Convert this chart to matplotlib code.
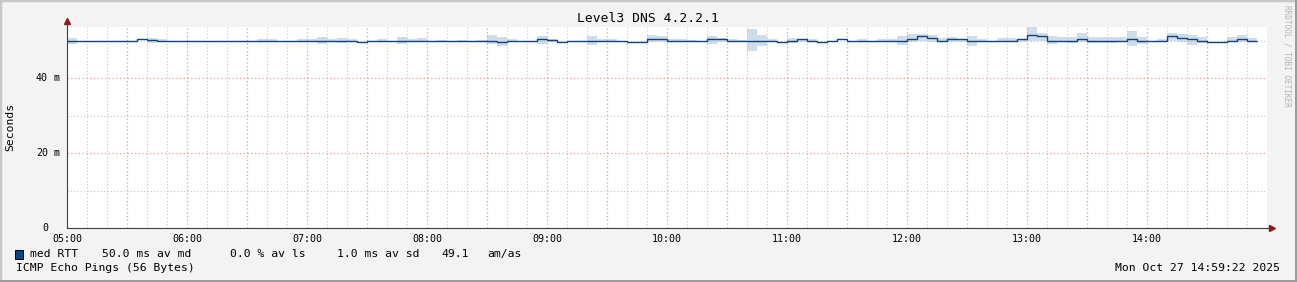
import numpy as np
import matplotlib
matplotlib.use("Agg")
import matplotlib.pyplot as plt
from matplotlib.patches import Rectangle

# median RTT (ms) per 5 minute step starting 05:00
med = [50.00, 50.00, 49.82, 50.00, 49.82, 50.00, 49.82, 50.27, 50.09, 50.00,
       50.00, 49.82, 49.82, 50.00, 50.00, 49.82, 50.00, 49.82, 49.82, 50.00,
       50.00, 50.00, 50.00, 50.00, 50.00, 50.00, 50.00, 50.00, 50.00, 49.73,
       50.00, 50.00, 50.00, 50.00, 50.00, 50.00, 50.00, 50.00, 50.00, 50.00,
       49.91, 50.00, 50.00, 49.73, 50.00, 50.00, 50.00, 50.27, 50.09, 49.73,
       50.00, 50.00, 50.00, 50.00, 50.00, 50.00, 49.73, 49.73, 50.27, 50.27,
       50.00, 50.00, 50.00, 50.00, 50.27, 50.27, 50.00, 50.00, 50.00, 50.00,
       50.00, 49.73, 50.00, 50.27, 50.00, 49.73, 50.00, 50.27, 50.00, 50.00,
       50.00, 50.00, 50.00, 50.00, 50.53, 51.07, 50.80, 50.00, 50.27, 50.27,
       50.00, 50.00, 50.00, 50.00, 50.00, 50.27, 51.60, 51.07, 50.00, 50.00,
       50.00, 50.53, 50.00, 50.00, 50.00, 50.00, 50.53, 50.00, 50.00, 50.00,
       51.33, 50.80, 50.27, 50.00, 49.73, 49.73, 50.00, 50.27, 50.00]

# smoke band top / bottom (ms)
band_hi = [50.71, 50.00, 49.82, 50.00, 49.82, 50.00, 49.82, 50.27, 50.71, 50.36,
           50.00, 49.82, 49.82, 50.00, 50.00, 49.82, 50.00, 49.82, 49.82, 50.36,
           50.36, 50.00, 50.00, 50.36, 50.36, 50.89, 50.36, 50.62, 50.36, 49.73,
           50.00, 50.36, 50.00, 50.89, 50.36, 50.62, 50.00, 50.18, 50.00, 50.18,
           49.91, 50.18, 51.42, 50.89, 50.36, 50.00, 50.00, 51.16, 50.36, 49.73,
           50.00, 50.00, 51.16, 50.36, 50.36, 50.00, 49.73, 49.73, 51.42, 51.16,
           50.36, 50.36, 50.18, 50.00, 51.16, 50.71, 50.36, 50.18, 53.02, 51.42,
           50.36, 49.73, 50.62, 50.36, 50.36, 49.73, 50.00, 50.27, 50.00, 50.36,
           50.00, 50.36, 50.36, 51.16, 51.78, 51.78, 51.42, 50.71, 50.89, 50.36,
           51.16, 50.36, 50.00, 50.62, 50.62, 50.36, 53.56, 52.13, 51.16, 50.89,
           50.89, 52.13, 50.89, 50.89, 50.89, 50.89, 52.49, 50.89, 50.00, 50.36,
           52.13, 51.78, 51.42, 50.89, 49.73, 49.73, 50.89, 51.42, 50.62]

band_lo = [49.11, 50.00, 49.82, 50.00, 49.82, 50.00, 49.82, 50.27, 49.38, 49.73,
           50.00, 49.82, 49.82, 50.00, 50.00, 49.82, 50.00, 49.82, 49.82, 49.47,
           49.47, 50.00, 50.00, 49.47, 49.73, 49.11, 49.73, 49.38, 49.64, 49.73,
           50.00, 49.73, 50.00, 49.11, 49.47, 49.47, 50.00, 49.73, 50.00, 49.73,
           49.91, 49.73, 49.11, 48.58, 49.47, 50.00, 50.00, 49.11, 49.47, 49.73,
           50.00, 50.00, 48.84, 49.47, 49.73, 50.00, 49.73, 49.73, 49.47, 49.47,
           49.73, 49.73, 49.73, 50.00, 49.11, 49.47, 49.73, 49.64, 47.07, 48.58,
           49.73, 49.73, 49.38, 49.73, 49.73, 49.73, 50.00, 50.27, 50.00, 49.73,
           50.00, 49.73, 49.73, 48.84, 49.73, 50.00, 49.73, 49.47, 49.73, 49.73,
           48.58, 49.47, 50.00, 49.64, 49.73, 49.73, 50.00, 50.00, 49.11, 49.47,
           49.29, 49.73, 49.29, 49.29, 49.29, 49.47, 48.58, 49.11, 50.00, 49.73,
           50.00, 49.47, 48.84, 49.29, 49.73, 49.73, 49.47, 49.47, 49.47]

x_labels = ['05:00', '06:00', '07:00', '08:00', '09:00',
            '10:00', '11:00', '12:00', '13:00', '14:00']
y_ticks = [0, 20, 40]
y_labels = ['0', '20', '40']

W, H = 1297, 282
BG = '#f3f3f3'
LINE = '#0a4486'
SMOKE = '#d0dce7'
mono = 'DejaVu Sans Mono'

fig = plt.figure(figsize=(W / 100, H / 100), dpi=100, facecolor=BG)
ax = fig.add_axes([67 / W, (H - 228) / H, 1200 / W, 201 / H])
ax.set_facecolor('white')

# time axis in hours, one step = 5 min
edges = 5 + np.arange(len(med) + 1) / 12
ax.stairs(band_hi, edges, baseline=band_lo, fill=True, color=SMOKE,
          lw=0, zorder=1)
ax.stairs(med, edges, baseline=None, color=LINE, lw=1.0, zorder=3)

ax.set_xlim(5, 15)
ax.set_ylim(0, 53.6)

# grid: red every 30 min / 20 ms, grey every 10 min / 10 ms
major_x = np.arange(5, 15, 0.5)
minor_x = [5 + k / 6 for k in range(60) if k % 3 != 0]
ax.set_xticks(major_x)
ax.set_xticks(minor_x, minor=True)
ax.set_yticks([0, 20, 40])
ax.set_yticks([10, 30, 50], minor=True)
ax.grid(which='minor', color='#c4c4c4', ls=(0, (1, 2)), lw=0.8, zorder=4)
ax.grid(which='major', color='#e89a9a', ls=(0, (1, 2)), lw=0.9, zorder=4)
ax.set_axisbelow(False)

ax.set_xticklabels([x_labels[i // 2] if i % 2 == 0 else ''
                    for i in range(len(major_x))],
                   family=mono, fontsize=7.2)
ax.set_yticklabels([])
ax.tick_params(which='both', length=0, pad=4)

for v, lab in zip(y_ticks, y_labels):
    ax.annotate(lab, xy=(0, v), xycoords=ax.get_yaxis_transform(),
                xytext=(-19, 0), textcoords='offset pixels', ha='right',
                va='center', family=mono, fontsize=7.2)
    if v != 0:
        ax.annotate('m', xy=(0, v), xycoords=ax.get_yaxis_transform(),
                    xytext=(-13, 0), textcoords='offset pixels', ha='left',
                    va='center', family=mono, fontsize=7.2)

for s in ['top', 'right']:
    ax.spines[s].set_visible(False)
for s in ['left', 'bottom']:
    ax.spines[s].set_color('#404040')
    ax.spines[s].set_linewidth(0.8)
    ax.spines[s].set_zorder(5)

# axis arrows
ax.plot([0, 0], [1, 1.02], transform=ax.transAxes, color='#404040',
        lw=0.8, clip_on=False)
ax.plot([1, 1.004], [0, 0], transform=ax.transAxes, color='#404040',
        lw=0.8, clip_on=False)
ax.plot([0], [1.03], marker='^', ms=4, color='#8b1a1a',
        transform=ax.transAxes, clip_on=False)
ax.plot([1.0045], [0], marker='>', ms=4, color='#8b1a1a',
        transform=ax.transAxes, clip_on=False)


def fx(x):
    return x / W


def fy(y):
    return 1 - y / H


fig.text(fx(648), fy(19), 'Level3 DNS 4.2.2.1', ha='center', va='center',
         family=mono, fontsize=9.4)
fig.text(fx(10), fy(127), 'Seconds', rotation=90, ha='center', va='center',
         family=mono, fontsize=8.2)
fig.text(fx(1287), fy(5), 'RRDTOOL / TOBI OETIKER', rotation=270,
         ha='center', va='top', family=mono, fontsize=5.6, color='#b4b4b4')

# legend line
fig.patches.append(Rectangle((fx(15), fy(259)), 8 / W, 9 / H,
                             transform=fig.transFigure, facecolor=LINE,
                             edgecolor='black', lw=0.7))
legend_parts = [(30, 'med RTT'), (102, '50.0 ms av md'), (230, '0.0 % av ls'),
                (337, '1.0 ms av sd'), (441, '49.1'), (487, 'am/as')]
for x, t in legend_parts:
    fig.text(fx(x), fy(254), t, ha='left', va='center', family=mono,
             fontsize=8.2)
fig.text(fx(16), fy(268), 'ICMP Echo Pings (56 Bytes)', ha='left',
         va='center', family=mono, fontsize=8.2)
fig.text(fx(1280), fy(268), 'Mon Oct 27 14:59:22 2025', ha='right',
         va='center', family=mono, fontsize=8.2)

# 3d-ish frame
fig.patches.append(Rectangle((0, 0), 1, 1, transform=fig.transFigure,
                             fill=False, edgecolor='#c8c8c8', lw=2.5))
fig.patches.append(Rectangle((0, 0), 1, 2.5 / H, transform=fig.transFigure,
                             color='#9c9c9c', lw=0))
fig.patches.append(Rectangle((1 - 2.5 / W, 0), 2.5 / W, 1,
                             transform=fig.transFigure, color='#9c9c9c', lw=0))

fig.savefig('out.png', dpi=100, facecolor=BG)
